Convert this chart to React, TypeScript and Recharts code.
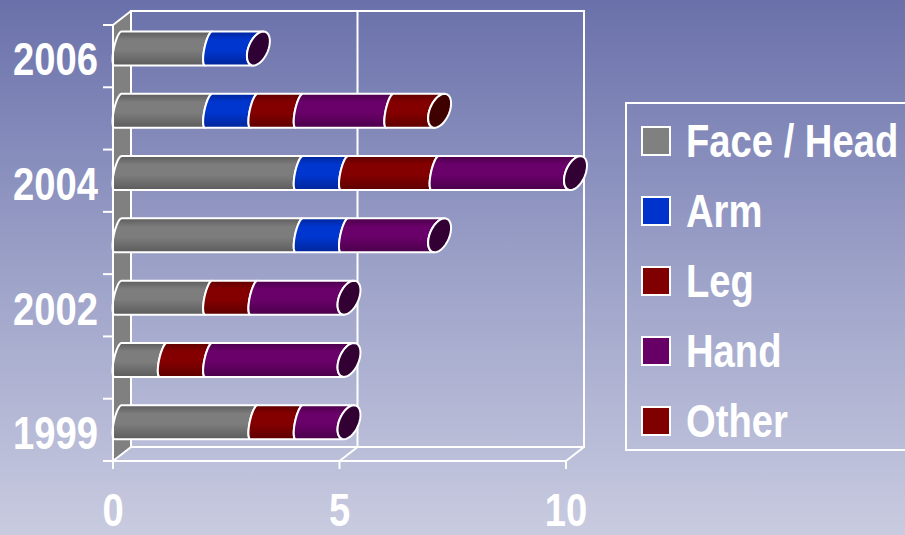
import { BarChart, Bar, XAxis, YAxis, Legend } from "recharts";

const YEARS = ["2006", "2005", "2004", "2003", "2002", "2000", "1999"];
const FACE_HEAD = [2, 2, 4, 4, 2, 1, 3];
const ARM = [1, 1, 1, 1, 0, 0, 0];
const LEG = [0, 1, 2, 0, 1, 1, 1];
const HAND = [0, 2, 3, 2, 2, 3, 1];
const OTHER = [0, 1, 0, 0, 0, 0, 0];
const X_TICKS = [0, 5, 10];

const SERIES = [
  { key: "face", name: "Face / Head", color: "#808080", light: "#7d7d7d", dark: "#5c5c5c", cap: "#3a3a3a" },
  { key: "arm", name: "Arm", color: "#0033cc", light: "#0036d0", dark: "#00259a", cap: "#2e0033" },
  { key: "leg", name: "Leg", color: "#800000", light: "#840000", dark: "#5e0000", cap: "#3f0000" },
  { key: "hand", name: "Hand", color: "#660066", light: "#6a006a", dark: "#4a004a", cap: "#330033" },
  { key: "other", name: "Other", color: "#800000", light: "#840000", dark: "#5e0000", cap: "#3f0000" },
];

const data = YEARS.map((year, i) => ({
  year,
  face: FACE_HEAD[i],
  arm: ARM[i],
  leg: LEG[i],
  hand: HAND[i],
  other: OTHER[i],
}));

const W = 905;
const H = 535;
// front plane of the plot
const PL = 113;
const PR = 566;
const PT = 25;
const PB = 461;
// depth offset of the 3D box
const DX = 18;
const DY = -14;
const BAR_SHIFT = -7.5;
const FONT = "'Liberation Sans', Arial, sans-serif";
const NARROW = 0.83; // no narrow font installed, squeeze the bold one

// left half of a sheared ellipse, from bottom to top
function halfCurve(x: number, cy: number, ry: number, off: number, shear: number, hw: number, reverse: boolean) {
  const cx = x + off;
  const rx = Math.sqrt(Math.max(hw * hw - shear * shear, 1));
  const pts: string[] = [];
  const n = 14;
  for (let i = 0; i <= n; i++) {
    const t = Math.PI / 2 + (Math.PI * i) / n;
    const y = cy + ry * Math.sin(t);
    const px = cx + rx * Math.cos(t) - (shear / ry) * (y - cy);
    pts.push(`${px.toFixed(2)},${y.toFixed(2)}`);
  }
  if (reverse) pts.reverse();
  return pts;
}

function fullEllipse(x: number, cy: number, ry: number, off: number, shear: number, hw: number) {
  const cx = x + off;
  const rx = Math.sqrt(Math.max(hw * hw - shear * shear, 1));
  const pts: string[] = [];
  const n = 32;
  for (let i = 0; i < n; i++) {
    const t = (2 * Math.PI * i) / n;
    const y = cy + ry * Math.sin(t);
    const px = cx + rx * Math.cos(t) - (shear / ry) * (y - cy);
    pts.push(`${px.toFixed(2)},${y.toFixed(2)}`);
  }
  return "M" + pts.join("L") + "Z";
}

const B = { off: 5, shear: 3.5, hw: 5.5 };
const C = { off: 9.5, shear: 5, hw: 11.5 };

function Cylinder(props: any) {
  const { x, y, width, height, payload, dataKey } = props;
  if (!payload || width <= 0) return null;
  const s = SERIES.find((d) => d.key === dataKey)!;
  const last = [...SERIES].reverse().find((d) => payload[d.key] > 0);
  const isLast = last && last.key === dataKey;
  const ry = height / 2;
  const cy = y + ry + BAR_SHIFT;
  const x1 = x + width;
  const left = halfCurve(x, cy, ry, B.off, B.shear, B.hw, true);
  const rp = isLast ? C : B;
  const right = halfCurve(x1, cy, ry, rp.off, rp.shear, rp.hw, false);
  const d = "M" + left.join("L") + "L" + right.join("L") + "Z";
  return (
    <g>
      <path d={d} fill={`url(#grad-${s.key})`} stroke="#ffffff" strokeWidth={2} strokeLinejoin="round" />
      {isLast && (
        <path d={fullEllipse(x1, cy, ry, C.off, C.shear, C.hw)} fill={s.cap} stroke="#ffffff" strokeWidth={2} />
      )}
    </g>
  );
}

function NarrowTick(props: any) {
  const { x, y, payload, textAnchor, dy } = props;
  return (
    <g transform={`translate(${x},${y})`}>
      <text
        x={0}
        y={0}
        dy={dy}
        textAnchor={textAnchor}
        transform={`scale(${NARROW},1)`}
        fill="#ffffff"
        fontSize={46}
        fontWeight={700}
        fontFamily={FONT}
      >
        {payload.value}
      </text>
    </g>
  );
}

const XTick = (p: any) => <NarrowTick {...p} textAnchor="middle" dy="0.71em" />;
const YTick = (p: any) => <NarrowTick {...p} textAnchor="end" dy="0.42em" />;

function Box3D() {
  const bands = YEARS.length;
  const step = (PB - PT) / bands;
  const unit = (PR - PL) / 10;
  const line = { stroke: "#ffffff", strokeWidth: 2, fill: "none" };
  return (
    <svg width={W} height={H} style={{ position: "absolute", left: 0, top: 0 }}>
      <defs>
        <linearGradient id="bg" x1="0" y1="0" x2="0" y2="1">
          <stop offset="0%" stopColor="#6a71aa" />
          <stop offset="50%" stopColor="#9ca1c8" />
          <stop offset="100%" stopColor="#c9cbe0" />
        </linearGradient>
      </defs>
      <rect x={0} y={0} width={W} height={H} fill="url(#bg)" />
      {/* side wall */}
      <polygon
        points={`${PL},${PT} ${PL + DX},${PT + DY} ${PL + DX},${PB + DY} ${PL},${PB}`}
        fill="#808080"
      />
      {/* back wall */}
      <rect x={PL + DX} y={PT + DY} width={PR - PL} height={PB - PT} {...line} />
      {/* floor */}
      <polyline points={`${PL},${PB} ${PL + DX},${PB + DY}`} {...line} />
      <polyline points={`${PR},${PB} ${PR + DX},${PB + DY}`} {...line} />
      {/* grid at 5 */}
      <polyline
        points={`${PL + 5 * unit},${PB} ${PL + 5 * unit + DX},${PB + DY} ${PL + 5 * unit + DX},${PT + DY}`}
        {...line}
      />
      <polyline points={`${PL},${PT} ${PL + DX},${PT + DY}`} {...line} />
      {/* category boundary ticks */}
      {Array.from({ length: bands + 1 }, (_, i) => (
        <line key={i} x1={PL - 10} x2={PL} y1={PT + i * step} y2={PT + i * step} stroke="#ffffff" strokeWidth={2} />
      ))}
    </svg>
  );
}

function LegendBox() {
  return (
    <div
      style={{
        position: "absolute",
        left: 625,
        top: 102,
        width: 300,
        height: 349,
        border: "2px solid #ffffff",
        boxSizing: "border-box",
      }}
    >
      {SERIES.map((s, i) => (
        <div
          key={s.key}
          style={{
            position: "absolute",
            left: 14,
            top: 22 + i * 70,
            height: 30,
            display: "flex",
            alignItems: "center",
            whiteSpace: "nowrap",
          }}
        >
          <div
            style={{
              width: 30,
              height: 30,
              background: s.color,
              border: "2px solid #ffffff",
              boxSizing: "border-box",
              marginRight: 15,
              flexShrink: 0,
            }}
          />
          <span
            style={{
              fontFamily: FONT,
              fontWeight: 700,
              fontSize: 46,
              color: "#ffffff",
              lineHeight: "30px",
              display: "inline-block",
              transform: `scaleX(${NARROW})`,
              transformOrigin: "left center",
            }}
          >
            {s.name}
          </span>
        </div>
      ))}
    </div>
  );
}

export default function App() {
  return (
    <div style={{ position: "absolute", left: 0, top: 0, width: W, height: H, overflow: "hidden" }}>
      <Box3D />
      <div style={{ position: "absolute", left: 0, top: 0 }}>
        <BarChart
          width={W}
          height={H}
          data={data}
          layout="vertical"
          margin={{ top: PT, right: W - PR, bottom: 0, left: 0 }}
          barSize={34}
        >
          <defs>
            {SERIES.map((s) => (
              <linearGradient key={s.key} id={`grad-${s.key}`} x1="0" y1="0" x2="0" y2="1">
                <stop offset="0%" stopColor={s.dark} />
                <stop offset="25%" stopColor={s.light} />
                <stop offset="55%" stopColor={s.light} />
                <stop offset="100%" stopColor={s.dark} />
              </linearGradient>
            ))}
          </defs>
          <XAxis
            type="number"
            domain={[0, 10]}
            ticks={X_TICKS}
            height={H - PB}
            axisLine={{ stroke: "#ffffff", strokeWidth: 2 }}
            tickLine={{ stroke: "#ffffff", strokeWidth: 2 }}
            tickSize={8}
            tickMargin={24}
            tick={XTick}
          />
          <YAxis
            type="category"
            dataKey="year"
            width={PL}
            interval={1}
            axisLine={{ stroke: "#ffffff", strokeWidth: 2 }}
            tickLine={false}
            tickSize={10}
            tickMargin={5}
            tick={YTick}
          />
          {SERIES.map((s) => (
            <Bar
              key={s.key}
              dataKey={s.key}
              name={s.name}
              stackId="a"
              fill={s.color}
              shape={Cylinder}
              isAnimationActive={false}
            />
          ))}
          <Legend content={() => null} />
        </BarChart>
      </div>
      <LegendBox />
    </div>
  );
}
